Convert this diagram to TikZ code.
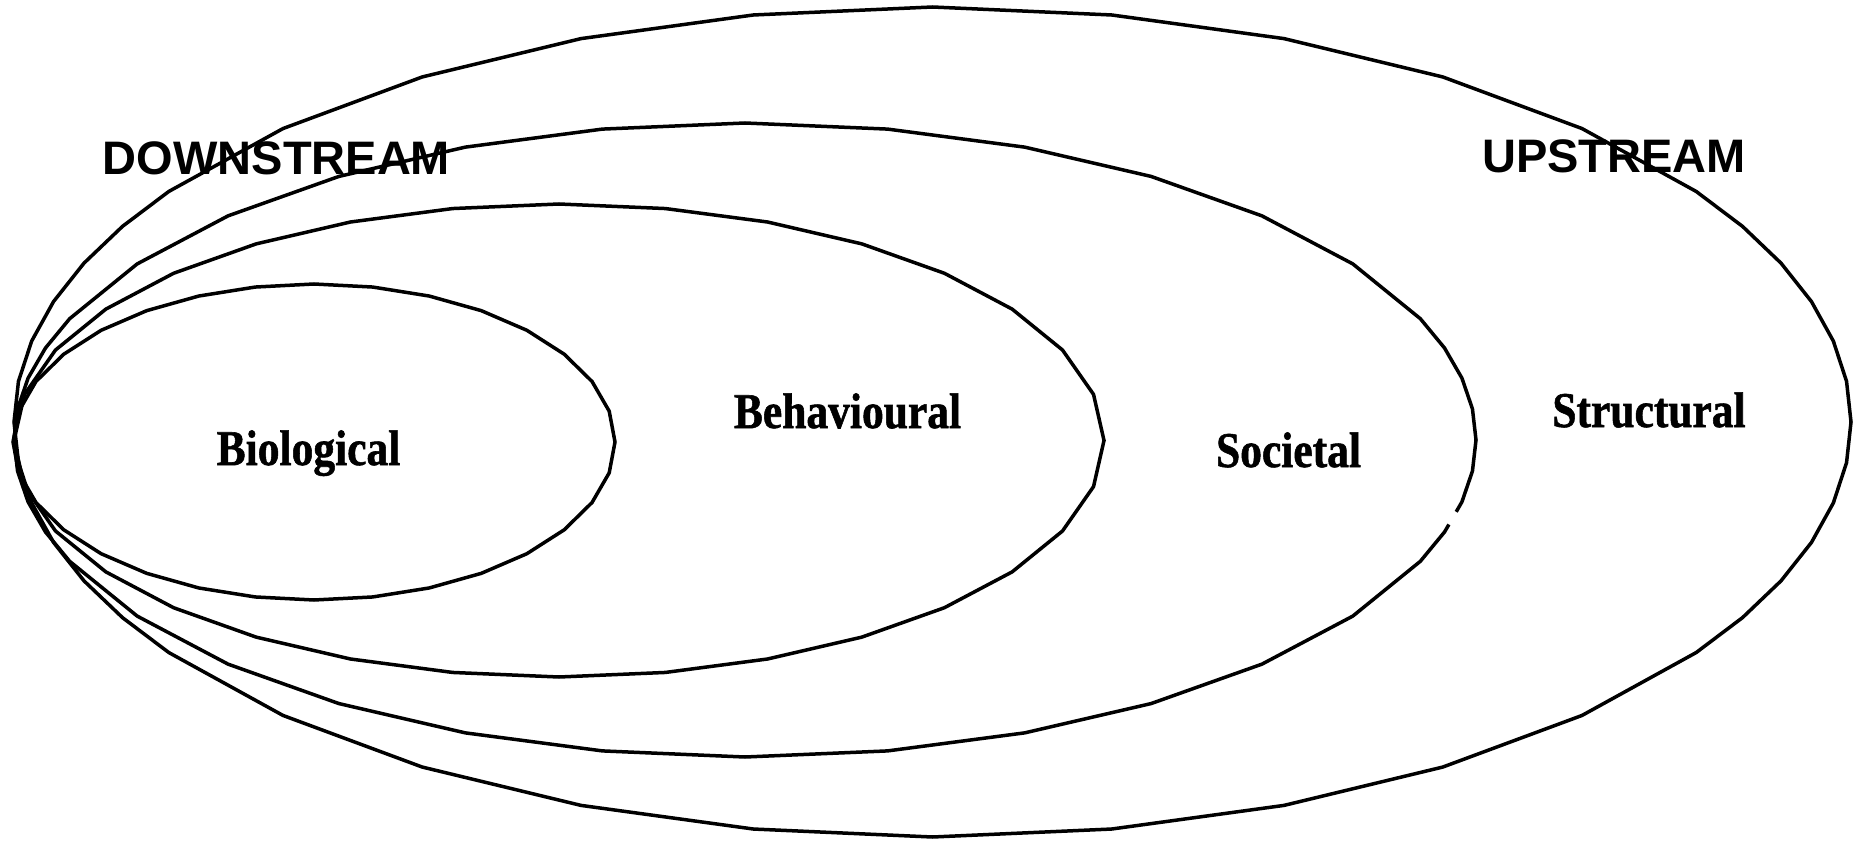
\documentclass[tikz,border=0pt]{standalone}
\usepackage{fontspec}
\setmainfont{Liberation Serif}
\newfontfamily\headfont{Liberation Sans}
\newfontfamily\levelfont{Liberation Serif}[UprightFont=* Bold, FakeBold=1.2]
\tikzset{
  ellline/.style={draw=black, line width=3.5pt, line join=miter},
  headlabel/.style={anchor=base, inner sep=0pt, font=\headfont\bfseries\fontsize{47}{50}\selectfont},
  levellabel/.style={anchor=base, inner sep=0pt, font=\levelfont\fontsize{50}{54}\selectfont},
}
\newcommand{\myellpoly}[5]{%
  \draw[ellline] ({#1+#3},{#2}) \foreach \t in {#5} { -- ({#1+#3*cos(\t)},{#2-#4*sin(\t)}) } -- cycle;%
}
\begin{document}
\begin{tikzpicture}[x=1pt,y=-1pt]
\useasboundingbox (0,0) rectangle (1857,842);
% labels
\node[headlabel] (down) at (276.5,175) {DOWNSTREAM};
\node[headlabel] (up) at (1614,173) {UPSTREAM};
\node[levellabel] (bio) at (308.5,465) {\scalebox{0.87}[1]{Biological}};
\node[levellabel] (beh) at (847.5,428) {\scalebox{0.87}[1]{Behavioural}};
\node[levellabel] (soc) at (1288.5,467) {\scalebox{0.87}[1]{Societal}};
\node[levellabel] (str) at (1649,427) {\scalebox{0.87}[1]{Structural}};
% Biological ellipse
\myellpoly{314}{442}{301}{158}{11.25,22.5,33.75,45,56.25,67.5,78.75,90,101.25,112.5,123.75,135,146.25,157.5,168.75,180,191.25,202.5,213.75,225,236.25,247.5,258.75,270,281.25,292.5,303.75,315,326.25,337.5,348.75}
% Behavioural ellipse
\myellpoly{559}{440.5}{545}{236.5}{11.25,22.5,33.75,45,56.25,67.5,78.75,90,101.25,112.5,123.75,135,146.25,157.5,168.75,180,191.25,202.5,213.75,225,236.25,247.5,258.75,270,281.25,292.5,303.75,315,326.25,337.5,348.75}
% Structural ellipse
\myellpoly{932.5}{422}{918.5}{415}{5.625,11.25,16.875,22.5,28.125,33.75,45,56.25,67.5,78.75,90,101.25,112.5,123.75,135,146.25,151.875,157.5,163.125,168.75,174.375,180,185.625,191.25,196.875,202.5,208.125,213.75,225,236.25,247.5,258.75,270,281.25,292.5,303.75,315,326.25,331.875,337.5,343.125,348.75,354.375}
% Societal ellipse (with small gap at lower right)
\coordinate (socgapA) at (1456.2,511.8);
\coordinate (socgapB) at (1448.9,524.5);
\draw[ellline] (socgapA) \foreach \t in {-11.25,-5.625,0,5.625,11.25,16.875,22.5,33.75,45,56.25,67.5,78.75,90,101.25,112.5,123.75,135,146.25,157.5,163.125,168.75,174.375,180,185.625,191.25,196.875,202.5,213.75,225,236.25,247.5,258.75,270,281.25,292.5,303.75,315,326.25,337.5,343.125} { -- ({745+731*cos(\t)},{440-317*sin(\t)}) } -- (socgapB);
\end{tikzpicture}
\end{document}
